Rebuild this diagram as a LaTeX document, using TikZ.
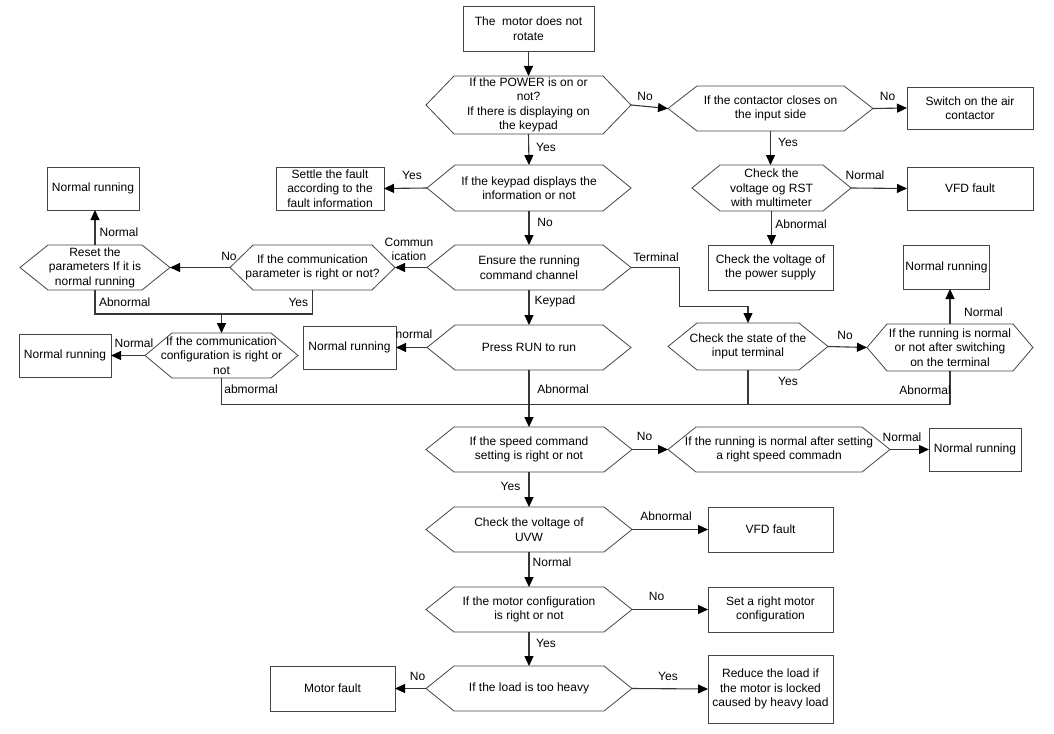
\documentclass[tikz,border=0pt]{standalone}
\usepackage{fontspec}
\setmainfont{Liberation Sans}
\usetikzlibrary{arrows.meta}
\definecolor{linegray}{RGB}{70,70,70}
\definecolor{conngray}{RGB}{55,55,55}
\newcommand\hexnode[7]{%
  \node[txt, minimum width=#4pt, minimum height=#5pt] (#1) at (#2,#3) {#7};
  \draw[shapeline] (#1.west) -- ([xshift=#6pt]#1.north west) -- ([xshift=-#6pt]#1.north east) -- (#1.east) -- ([xshift=-#6pt]#1.south east) -- ([xshift=#6pt]#1.south west) -- cycle;
}
\newcommand\boxnode[6]{%
  \node[txt, boxline, minimum width=#4pt, minimum height=#5pt] (#1) at (#2,#3) {#6};
}
\begin{document}
\begin{tikzpicture}[x=1pt,y=-1pt,
  font=\fontsize{12}{14.5}\selectfont,
  txt/.style={inner sep=0pt, outer sep=0pt, align=center, shape=rectangle},
  shapeline/.style={draw=linegray, line width=0.8pt, line join=miter},
  boxline/.style={draw=linegray, line width=0.9pt},
  conn/.style={draw=conngray, line width=1.1pt},
  arr/.style={conn, -{Triangle[length=10pt,width=9pt,color=black]}},
  lbl/.style={inner sep=0pt, align=center}]
\useasboundingbox[fill=white] (0,0) rectangle (1054,733);

% ---- nodes ----
\boxnode{start}{528.5}{28.5}{131}{45}{The\ \ motor does not\\rotate}
\hexnode{h1}{528.5}{105}{205}{58}{28}{If the POWER is on or\\not?\\If there is displaying on\\the keypad}
\hexnode{h2}{770.5}{108.5}{205}{45}{29}{If the contactor closes on\\the input side}
\boxnode{sw}{970}{108}{126}{42}{Switch on the air\\contactor}
\hexnode{h3}{529}{188}{204}{46}{28}{If the keypad displays the\\information or not}
\boxnode{settle}{330}{188.5}{108}{43}{Settle the fault\\according to the\\fault information}
\hexnode{rst}{771.5}{188}{159}{46}{28}{Check the\\voltage og RST\\with multimeter}
\boxnode{vfda}{970}{188.5}{126}{43}{VFD fault}
\boxnode{ps}{770.5}{267.5}{125}{45}{Check the voltage of\\the power supply}
\hexnode{h4}{529}{267.5}{204}{45}{28}{Ensure the running\\command channel}
\hexnode{h5}{312.5}{267.5}{165}{45}{23}{If the communication\\parameter is right or not?}
\hexnode{h6}{95}{267.5}{150}{45}{28}{Reset the\\parameters If it is\\normal running}
\boxnode{nra}{93}{188.5}{92}{43}{Normal running}
\hexnode{h7}{221.5}{355.5}{153}{45}{27}{If the communication\\configuration is right or\\not}
\boxnode{nrb}{65}{355.5}{92}{43}{Normal running}
\hexnode{h8}{529}{347.5}{204}{45}{28}{Press RUN to run}
\boxnode{nrc}{349.5}{347.5}{93}{43}{Normal running}
\hexnode{h9}{748}{346.5}{160}{47}{29}{Check the state of the\\input terminal}
\hexnode{h10}{950}{347.5}{166}{47}{20}{If the running is normal\\or not after switching\\on the terminal}
\boxnode{nrd}{946.5}{267}{86}{44}{Normal running}
\hexnode{h11}{529}{449.5}{206}{45}{28}{If the speed command\\setting is right or not}
\hexnode{h12}{779}{449.5}{222}{45}{28}{If the running is normal after setting\\a right speed commadn}
\boxnode{nre}{975}{449.5}{92}{43}{Normal running}
\hexnode{h13}{529}{529.5}{206}{45}{28}{Check the voltage of\\UVW}
\boxnode{vfdb}{770.5}{529.5}{125}{45}{VFD fault}
\hexnode{h14}{529}{609.5}{206}{45}{28}{If the motor configuration\\is right or not}
\boxnode{setm}{770.5}{609.5}{125}{45}{Set a right motor\\configuration}
\hexnode{h15}{529}{688.5}{206}{45}{28}{If the load is too heavy}
\boxnode{mf}{332.5}{688.5}{125}{45}{Motor fault}
\boxnode{red}{770.5}{689}{125}{68}{Reduce the load if\\the motor is locked\\caused by heavy load}

% ---- helper coordinates ----
\coordinate (ya) at (0,314);
\coordinate (yb) at (0,404.5);
\coordinate (tk) at (679.3,306.7);

% ---- connectors ----
\draw[arr] (start.south) -- (h1.north);
\draw[arr] (h1.east) -- (h2.west);
\draw[arr] (h2.east) -- (sw.west);
\draw[arr] (h2.south) -- (h2.south |- rst.north);
\draw[arr] (h1.south) -- (h3.north);
\draw[arr] (h3.west) -- (settle.east);
\draw[arr] (rst.east) -- (vfda.west);
\draw[arr] (rst.south) -- (rst.south |- ps.north);
\draw[arr] (h3.south) -- (h4.north);
\draw[arr] (h4.west) -- (h5.east);
\draw[arr] (h5.west) -- (h6.east);
\draw[arr] (h6.north) -- (h6.north |- nra.south);
\draw[conn] (h6.south) -- (h6.south |- ya) -- (h5.south |- ya) -- (h5.south);
\draw[arr] (h7.north |- ya) -- (h7.north);
\draw[arr] (h7.west) -- (nrb.east);
\draw[arr] (h8.west) -- (nrc.east);
\draw[arr] (h4.south) -- (h8.north);
\draw[arr] (h4.east) -| (tk) -| (h9.north);
\draw[arr] (h9.east) -- (h10.west);
\draw[arr] (h10.north) -- (h10.north |- nrd.south);
\draw[conn] (h7.south) -- (h7.south |- yb) -- (h10.south |- yb) -- (h10.south);
\draw[conn] (h9.south) -- (h9.south |- yb);
\draw[arr] (h8.south) -- (h11.north);
\draw[arr] (h11.east) -- (h12.west);
\draw[arr] (h12.east) -- (nre.west);
\draw[arr] (h11.south) -- (h13.north);
\draw[arr] (h13.east) -- (vfdb.west);
\draw[arr] (h13.south) -- (h14.north);
\draw[arr] (h14.east) -- (setm.west);
\draw[arr] (h14.south) -- (h15.north);
\draw[arr] (h15.west) -- (mf.east);
\draw[arr] (h15.east) -- (red.west);

% ---- labels ----
\node[lbl] (l1) at (645,96) {No};
\node[lbl] (l2) at (887.5,96) {No};
\node[lbl] (l3) at (788,142) {Yes};
\node[lbl] (l4) at (546,147) {Yes};
\node[lbl] (l5) at (412,175) {Yes};
\node[lbl] (l6) at (865,175) {Normal};
\node[lbl] (l7) at (801,224) {Abnormal};
\node[lbl] (l8) at (545,222) {No};
\node[lbl] (l9) at (409,249.5) {Commun\\ication};
\node[lbl] (l10) at (229,256.7) {No};
\node[lbl] (l11) at (119,232.7) {Normal};
\node[lbl] (l12) at (124.7,302.3) {Abnormal};
\node[lbl] (l13) at (298.3,302.3) {Yes};
\node[lbl] (l14) at (134,343) {Normal};
\node[lbl] (l15) at (251,389.3) {abmormal};
\node[lbl] (l16) at (414,334) {normal};
\node[lbl] (l17) at (555,301.7) {Keypad};
\node[lbl] (l18) at (656,257.3) {Terminal};
\node[lbl] (l19) at (845,335) {No};
\node[lbl] (l20) at (983.5,312.7) {Normal};
\node[lbl] (l21) at (563,389) {Abnormal};
\node[lbl] (l22) at (788,381.7) {Yes};
\node[lbl] (l23) at (925,390) {Abnormal};
\node[lbl] (l24) at (644.5,436.7) {No};
\node[lbl] (l25) at (902,437.7) {Normal};
\node[lbl] (l26) at (510.5,486) {Yes};
\node[lbl] (l27) at (666,516.7) {Abnormal};
\node[lbl] (l28) at (552,562.7) {Normal};
\node[lbl] (l29) at (656.5,596) {No};
\node[lbl] (l30) at (546,643) {Yes};
\node[lbl] (l31) at (417.5,676) {No};
\node[lbl] (l32) at (668,676) {Yes};
\end{tikzpicture}
\end{document}
